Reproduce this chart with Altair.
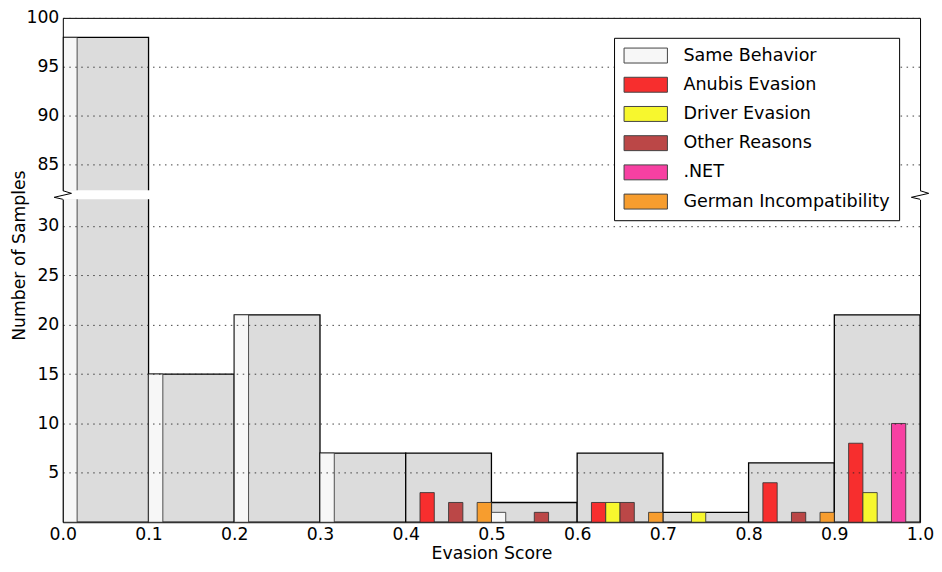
import altair as alt
import pandas as pd

# ---------------- data ----------------
BIN_STARTS = [0.0, 0.1, 0.2, 0.3, 0.4, 0.5, 0.6, 0.7, 0.8, 0.9]
BIN_WIDTH = 0.1
SERIES = ["Same Behavior", "Anubis Evasion", "Driver Evasion",
          "Other Reasons", ".NET", "German Incompatibility"]
COLORS = ["#f7f7f7", "#f72e2e", "#f7f72e", "#bb4747", "#f740a2", "#f79d2e"]

SAME_BEHAVIOR = [98, 15, 21, 7, 0, 1, 0, 0, 0, 0]
ANUBIS_EVASION = [0, 0, 0, 0, 3, 0, 2, 0, 4, 8]
DRIVER_EVASION = [0, 0, 0, 0, 0, 0, 2, 1, 0, 3]
OTHER_REASONS = [0, 0, 0, 0, 2, 1, 2, 0, 1, 0]
DOTNET = [0, 0, 0, 0, 0, 0, 0, 0, 0, 10]
GERMAN_INCOMPAT = [0, 0, 0, 0, 2, 0, 1, 0, 1, 0]

X_TICKS = [0.0, 0.1, 0.2, 0.3, 0.4, 0.5, 0.6, 0.7, 0.8, 0.9, 1.0]
Y_TICKS_UPPER = [85, 90, 95, 100]
Y_TICKS_LOWER = [5, 10, 15, 20, 25, 30]
Y_RANGE_UPPER = [82.4, 100]
Y_RANGE_LOWER = [0, 32.7]

# axis-break zigzag (offsets from the lower panel's top-left / top-right corner)
BREAK_DX = [0.0, -0.0101, 0.0101, 0.0]
BREAK_DY = [0.0, 0.2, 0.6, 0.87]

# ---------------- tables ----------------
counts = [SAME_BEHAVIOR, ANUBIS_EVASION, DRIVER_EVASION,
          OTHER_REASONS, DOTNET, GERMAN_INCOMPAT]
totals = [sum(c[i] for c in counts) for i in range(len(BIN_STARTS))]
slot = BIN_WIDTH / len(SERIES)

tot_df = pd.DataFrame({
    "x0": BIN_STARTS,
    "x1": [b + BIN_WIDTH for b in BIN_STARTS],
    "total": totals,
})

rows = []
for k, (name, vals) in enumerate(zip(SERIES, counts)):
    for b, v in zip(BIN_STARTS, vals):
        if v > 0:
            rows.append({"series": name, "x0": b + k * slot,
                         "x1": b + (k + 1) * slot, "count": v})
ser_df = pd.DataFrame(rows)

brk_rows = []
for side in [0.0, 1.0]:
    for i, (dx, dy) in enumerate(zip(BREAK_DX, BREAK_DY)):
        brk_rows.append({"side": str(side), "bx": side + dx,
                         "by": Y_RANGE_LOWER[1] + dy, "k": i})
brk_df = pd.DataFrame(brk_rows)

FONT = "DejaVu Sans"
FS = 17.3
FS_LEG = 17.6

legend = alt.Legend(
    orient="none", legendX=553, legendY=20, title=None,
    symbolType="M-2.9,-1H2.9V1H-2.9Z", symbolSize=225,
    symbolOffset=14, labelOffset=29,
    symbolStrokeColor="#444", symbolStrokeWidth=1, symbolOpacity=1,
    labelFont=FONT, labelFontSize=FS_LEG, labelColor="black", labelLimit=400,
    rowPadding=9.3, padding=9, strokeColor="black", fillColor="white",
    cornerRadius=0, zindex=2,
)


def panel(y_range, y_ticks, height, upper):
    xs = alt.Scale(domain=[0, 1], nice=False, zero=False)
    ys = alt.Scale(domain=y_range, nice=False, zero=False)
    if upper:
        x_axis = alt.Axis(orient="top", labels=False, ticks=False, grid=False,
                          domainColor="black", domainWidth=1, title=None)
    else:
        x_axis = alt.Axis(orient="bottom", values=X_TICKS, format=".1f",
                          ticks=False, grid=False, domainColor="black",
                          domainWidth=1, labelPadding=3, labelFlush=False,
                          title="Evasion Score", titlePadding=2)
    left_kw = dict(values=y_ticks, grid=True, gridDash=[1.5, 4.5],
                   gridColor="#222", gridOpacity=0.85, ticks=False,
                   domainColor="black", domainWidth=1, labelPadding=4,
                   minExtent=34, maxExtent=34, titlePadding=0, zindex=1)
    if upper:
        left_axis = alt.Axis(title=" ", **left_kw)
    else:
        left_axis = alt.Axis(title="Number of Samples", titleY=56, **left_kw)
    right_axis = alt.Axis(orient="right", labels=False, ticks=False,
                          grid=False, domainColor="black", domainWidth=1,
                          title=None, zindex=1)
    x_enc = alt.X("x0:Q", scale=xs, axis=x_axis)

    gray = alt.Chart(tot_df).mark_bar(
        clip=True, fill="#dcdcdc", stroke="black", strokeWidth=1.3
    ).encode(x=x_enc, x2="x1:Q",
             y=alt.Y("total:Q", scale=ys, axis=left_axis), y2=alt.datum(0))

    bars = alt.Chart(ser_df).mark_bar(
        clip=True, stroke="#333", strokeWidth=1, strokeOpacity=0.85
    ).encode(x=x_enc, x2="x1:Q",
             y=alt.Y("count:Q", scale=ys, axis=None), y2=alt.datum(0),
             color=alt.Color("series:N",
                             scale=alt.Scale(domain=SERIES, range=COLORS),
                             legend=legend))

    frame = alt.Chart(tot_df).mark_bar(clip=True, opacity=0).encode(
        x=x_enc, x2="x1:Q",
        y=alt.Y("total:Q", scale=ys, axis=right_axis), y2=alt.datum(0))

    layers = [gray, bars, frame]
    if not upper:
        brk = alt.Chart(brk_df).mark_line(
            clip=False, color="black", strokeWidth=1
        ).encode(x=alt.X("bx:Q", scale=xs, axis=x_axis),
                 y=alt.Y("by:Q", scale=ys, axis=None),
                 detail="side:N", order="k:Q")
        layers.append(brk)
    return alt.layer(*layers).resolve_axis(y="independent").properties(
        width=860, height=height)


upper = panel(Y_RANGE_UPPER, Y_TICKS_UPPER, 173, True)
lower = panel(Y_RANGE_LOWER, Y_TICKS_LOWER, 324, False)

chart = alt.vconcat(upper, lower, spacing=9, bounds="flush").properties(
    padding={"left": 2, "top": 0, "right": 0, "bottom": 0},
    background="white",
).configure_view(stroke=None).configure_axis(
    labelFont=FONT, labelFontSize=FS, titleFont=FONT, titleFontSize=FS,
    titleFontWeight="normal", labelColor="black", titleColor="black",
)

chart.save("out.html", embed_options={"renderer": "svg", "actions": False})
